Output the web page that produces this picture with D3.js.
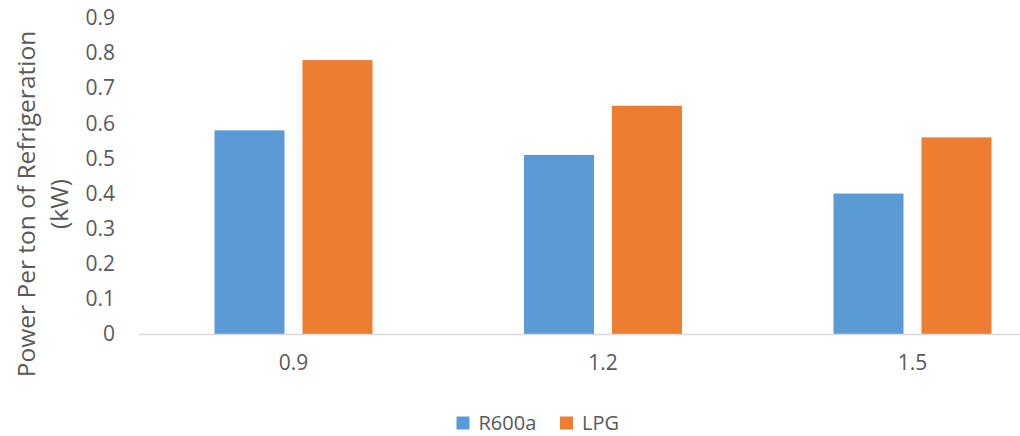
<!DOCTYPE html>
<html>
<head>
<meta charset="utf-8">
<script src="https://cdn.jsdelivr.net/npm/d3@7"></script>
<style>
  html, body { margin: 0; padding: 0; background: #fff; }
  svg { display: block; }
  text { font-family: "Open Sans", "Noto Sans", sans-serif; fill: #595959; }
</style>
</head>
<body>
<svg id="chart" width="1020" height="436"></svg>
<script>
const categories = ["0.9", "1.2", "1.5"];
const seriesNames = ["R600a", "LPG"];
const r600aValues = [0.58, 0.51, 0.40];
const lpgValues = [0.78, 0.65, 0.56];
const yTicks = [0, 0.1, 0.2, 0.3, 0.4, 0.5, 0.6, 0.7, 0.8, 0.9];
const colors = ["#5B9BD5", "#ED7D31"];

(function () {
const seriesValues = [r600aValues, lpgValues];
const data = categories.map((c, i) => ({
  cat: c,
  vals: seriesNames.map((s, j) => ({ series: s, value: seriesValues[j][i] }))
}));

const svg = d3.select("#chart");
const mLeft = 138.75, mRight = 1067.25, mTop = 18, mBottom = 334;

const y = d3.scaleLinear().domain([0, 0.9]).range([mBottom, mTop]);
const p = 1 - 158 / 309.5;
const x0 = d3.scaleBand().domain(categories).range([mLeft, mRight])
  .paddingInner(p).paddingOuter(p / 2);
const x1 = d3.scaleBand().domain(seriesNames).range([0, x0.bandwidth()])
  .paddingInner(18 / 88).paddingOuter(0);
const color = d3.scaleOrdinal().domain(seriesNames).range(colors);

// bars
const groups = svg.append("g").selectAll("g").data(data).join("g")
  .attr("transform", d => `translate(${x0(d.cat)},0)`);
groups.selectAll("rect").data(d => d.vals).join("rect")
  .attr("x", d => x1(d.series))
  .attr("y", d => y(d.value))
  .attr("width", x1.bandwidth())
  .attr("height", d => y(0) - y(d.value))
  .attr("fill", d => color(d.series));

// x axis line
svg.append("line")
  .attr("x1", mLeft).attr("x2", mRight)
  .attr("y1", y(0) + 0.5).attr("y2", y(0) + 0.5)
  .attr("stroke", "#D9D9D9").attr("stroke-width", 1.5);

// y axis labels
const yAxis = d3.axisLeft(y).tickValues(yTicks).tickSize(0).tickPadding(0)
  .tickFormat(d => d === 0 ? "0" : d3.format(".1f")(d));
const yg = svg.append("g").attr("transform", `translate(115,0)`).call(yAxis);
yg.select(".domain").remove();
yg.selectAll("text").style("font-size", "21px").attr("fill", "#595959")
  .style("font-family", "'Open Sans', sans-serif");

// x axis labels
const xAxis = d3.axisBottom(x0).tickSize(0).tickPadding(0);
const xg = svg.append("g").attr("transform", `translate(0,${mBottom + 21})`).call(xAxis);
xg.select(".domain").remove();
xg.selectAll("text").style("font-size", "21px").attr("fill", "#595959")
  .style("font-family", "'Open Sans', sans-serif");

// y axis title
const title = svg.append("text")
  .attr("transform", `translate(26,204) rotate(-90)`)
  .attr("text-anchor", "middle")
  .style("font-size", "24.5px");
title.append("tspan").attr("x", 0).attr("dy", "0.35em").text("Power Per ton of Refrigeration");
title.append("tspan").attr("x", 0).attr("dy", "33px").text("(kW)");

// legend
const legendX = [456.5, 560];
const lg = svg.append("g").selectAll("g").data(seriesNames).join("g")
  .attr("transform", (d, i) => `translate(${legendX[i]},416.5)`);
lg.append("rect").attr("width", 13).attr("height", 13).attr("fill", d => color(d));
lg.append("text").attr("x", 22).attr("y", 6.5).attr("dy", "0.35em")
  .style("font-size", "20px").text(d => d);
})();
</script>
</body>
</html>
